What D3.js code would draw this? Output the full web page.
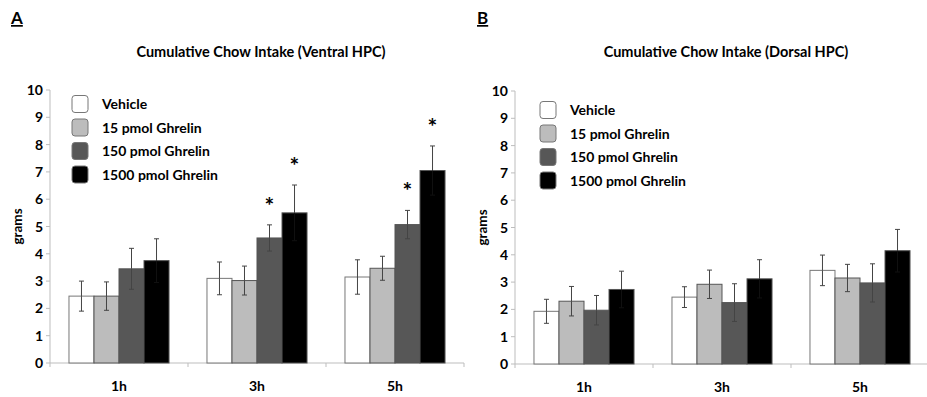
<!DOCTYPE html>
<html>
<head>
<meta charset="utf-8">
<script src="https://cdn.jsdelivr.net/npm/d3@7"></script>
<style>
  body { margin: 0; background: #fff; }
  text { font-family: Lato, "Open Sans", sans-serif; font-weight: bold; fill: #000; }
</style>
</head>
<body>
<div id="chart"></div>
<script>
// data
var categories = ["1h", "3h", "5h"];
var series = ["Vehicle", "15 pmol Ghrelin", "150 pmol Ghrelin", "1500 pmol Ghrelin"];
var yTicks = [0, 1, 2, 3, 4, 5, 6, 7, 8, 9, 10];

var ventralMeans = [[2.45, 2.45, 3.45, 3.75], [3.1, 3.02, 4.58, 5.5], [3.15, 3.47, 5.07, 7.05]];
var ventralErr   = [[0.55, 0.52, 0.75, 0.8], [0.6, 0.53, 0.48, 1.02], [0.63, 0.44, 0.52, 0.9]];
var ventralSig   = [[0, 0, 0, 0], [0, 0, 1, 1], [0, 0, 1, 1]];

var dorsalMeans = [[1.93, 2.3, 1.97, 2.73], [2.45, 2.92, 2.25, 3.12], [3.43, 3.15, 2.97, 4.15]];
var dorsalErr   = [[0.44, 0.54, 0.54, 0.67], [0.38, 0.52, 0.69, 0.7], [0.56, 0.5, 0.7, 0.78]];
var dorsalSig   = [[0, 0, 0, 0], [0, 0, 0, 0], [0, 0, 0, 0]];

var fills = ["#ffffff", "#bcbcbc", "#575757", "#000000"];

var W = 927, H = 397;
var svg = d3.select("#chart").append("svg").attr("width", W).attr("height", H);

function drawPanel(opt) {
  var g = svg.append("g");

  var x0 = d3.scaleBand().domain(categories)
      .range([opt.left, opt.left + 414])
      .paddingInner(0.275).paddingOuter(0.1375);
  var x1 = d3.scaleBand().domain(d3.range(series.length)).range([0, x0.bandwidth()]);
  var y = d3.scaleLinear().domain([0, 10]).range([opt.bottom, opt.top]);

  // panel letter
  g.append("text").attr("x", opt.letterX).attr("y", 24)
    .style("font-size", "17px").style("text-decoration", "underline")
    .text(opt.letter);

  // title
  g.append("text").attr("x", opt.left + 211).attr("y", 57)
    .attr("text-anchor", "middle").style("font-size", "14.5px")
    .text(opt.title);

  // y axis
  g.append("line").attr("x1", opt.left).attr("x2", opt.left)
    .attr("y1", y(10)).attr("y2", y(0)).attr("stroke", "#bdbdbd");
  yTicks.forEach(function(t) {
    g.append("line").attr("x1", opt.left - 4).attr("x2", opt.left)
      .attr("y1", y(t)).attr("y2", y(t)).attr("stroke", "#bdbdbd");
    g.append("text").attr("x", opt.left - 7).attr("y", y(t) + 5)
      .attr("text-anchor", "end").style("font-size", "14px").text(t);
  });
  g.append("text")
    .attr("transform", "translate(" + (opt.left - 28) + "," + y(5) + ") rotate(-90)")
    .attr("text-anchor", "middle").style("font-size", "13.5px").text("grams");

  // x axis
  var step = x0.step();
  g.append("line").attr("x1", opt.left).attr("x2", opt.left + 3 * step)
    .attr("y1", y(0)).attr("y2", y(0)).attr("stroke", "#bdbdbd");
  d3.range(4).forEach(function(i) {
    g.append("line").attr("x1", opt.left + i * step).attr("x2", opt.left + i * step)
      .attr("y1", y(0)).attr("y2", y(0) + 4).attr("stroke", "#bdbdbd");
  });
  categories.forEach(function(c) {
    g.append("text").attr("x", x0(c) + x0.bandwidth() / 2).attr("y", y(0) + 28)
      .attr("text-anchor", "middle").style("font-size", "14px").text(c);
  });

  // bars
  categories.forEach(function(c, ci) {
    var grp = g.append("g").attr("transform", "translate(" + x0(c) + ",0)");
    series.forEach(function(s, si) {
      var v = opt.means[ci][si], e = opt.err[ci][si];
      var bx = x1(si), bw = x1.bandwidth(), cx = bx + bw / 2;
      var lowCol = si === 3 ? "#111" : "#444";
      grp.append("rect").attr("x", bx).attr("y", y(v))
        .attr("width", bw).attr("height", y(0) - y(v))
        .attr("fill", fills[si]).attr("stroke", si === 0 ? "#777" : "#555").attr("stroke-width", 1);
      grp.append("line").attr("x1", cx).attr("x2", cx)
        .attr("y1", y(v + e)).attr("y2", y(v)).attr("stroke", "#444");
      grp.append("line").attr("x1", cx).attr("x2", cx)
        .attr("y1", y(v)).attr("y2", y(v - e)).attr("stroke", lowCol);
      grp.append("line").attr("x1", cx - 2.5).attr("x2", cx + 2.5)
        .attr("y1", y(v + e)).attr("y2", y(v + e)).attr("stroke", "#444");
      grp.append("line").attr("x1", cx - 2.5).attr("x2", cx + 2.5)
        .attr("y1", y(v - e)).attr("y2", y(v - e)).attr("stroke", lowCol);
      if (opt.sig[ci][si]) {
        grp.append("text").attr("x", cx).attr("y", y(v + e) - 11)
          .attr("text-anchor", "middle").style("font-size", "23px").text("*");
      }
    });
  });

  // legend
  series.forEach(function(s, si) {
    var ly = opt.legendY + si * 23.5;
    g.append("rect").attr("x", opt.legendX).attr("y", ly - 8.5)
      .attr("width", 16).attr("height", 17).attr("rx", 3)
      .attr("fill", fills[si]).attr("stroke", "#777");
    g.append("text").attr("x", opt.legendX + 30).attr("y", ly + 5)
      .style("font-size", "14px").text(s);
  });
}

drawPanel({
  letter: "A", letterX: 11, left: 50, top: 90, bottom: 363,
  title: "Cumulative Chow Intake (Ventral HPC)",
  means: ventralMeans, err: ventralErr, sig: ventralSig,
  legendX: 72, legendY: 104
});

drawPanel({
  letter: "B", letterX: 477, left: 515, top: 91, bottom: 364,
  title: "Cumulative Chow Intake (Dorsal HPC)",
  means: dorsalMeans, err: dorsalErr, sig: dorsalSig,
  legendX: 540, legendY: 110
});
</script>
</body>
</html>
